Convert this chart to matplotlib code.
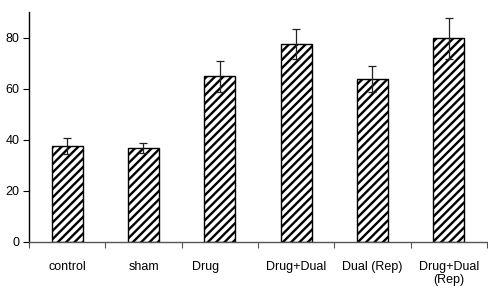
import matplotlib
matplotlib.use('Agg')
import matplotlib.pyplot as plt
import matplotlib.transforms as mtransforms
import numpy as np

# データ
categories = ['control', 'sham', 'Drug', 'Drug+Dual', 'Dual (Rep)', 'Drug+Dual\n(Rep)']
values = [37.6, 36.7, 64.8, 77.5, 63.7, 79.7]
errors = [3.0, 2.0, 6.0, 6.0, 5.0, 8.0]

plt.rcParams['font.family'] = ['Liberation Sans', 'DejaVu Sans']
plt.rcParams['hatch.linewidth'] = 1.7
plt.rcParams['hatch.color'] = 'black'

fig = plt.figure(figsize=(4.89, 2.89), dpi=100)
ax = fig.add_axes([29 / 489, 47 / 289, 458 / 489, 230 / 289])

x = np.arange(len(categories))
ax.bar(x, values, width=0.41, color='white', edgecolor='black', linewidth=1.0,
       hatch='////', zorder=2)
ax.errorbar(x, values, yerr=errors, fmt='none', ecolor='#222222', elinewidth=0.9,
            capsize=3, capthick=0.9, zorder=3)

ax.set_xlim(-0.5, len(categories) - 0.5)
ax.set_ylim(0, 90)
ax.set_yticks([0, 20, 40, 60, 80])

# x目盛りはカテゴリの境界に、ラベルは中央に
ax.set_xticks(np.arange(len(categories) + 1) - 0.5)
ax.set_xticklabels([])
ax.tick_params(axis='x', which='major', direction='out', length=4, color='#555555')
ax.set_xticks(x, minor=True)
ax.set_xticklabels(categories, minor=True, fontsize=9, linespacing=1.1)
ax.tick_params(axis='x', which='minor', length=0, pad=14)
ax.tick_params(axis='y', direction='out', length=4, labelsize=9, pad=3)

# "Drug" のラベルは少し左寄り
for lbl in ax.get_xticklabels(minor=True):
    if lbl.get_text() == 'Drug':
        lbl.set_transform(lbl.get_transform() +
                          mtransforms.ScaledTranslation(-0.14, 0, fig.dpi_scale_trans))

for side in ['top', 'right']:
    ax.spines[side].set_visible(False)
ax.spines['left'].set_color('black')
ax.spines['bottom'].set_color('#555555')
ax.spines['left'].set_linewidth(1.0)
ax.spines['bottom'].set_linewidth(1.0)

fig.savefig('out.png', dpi=100)
